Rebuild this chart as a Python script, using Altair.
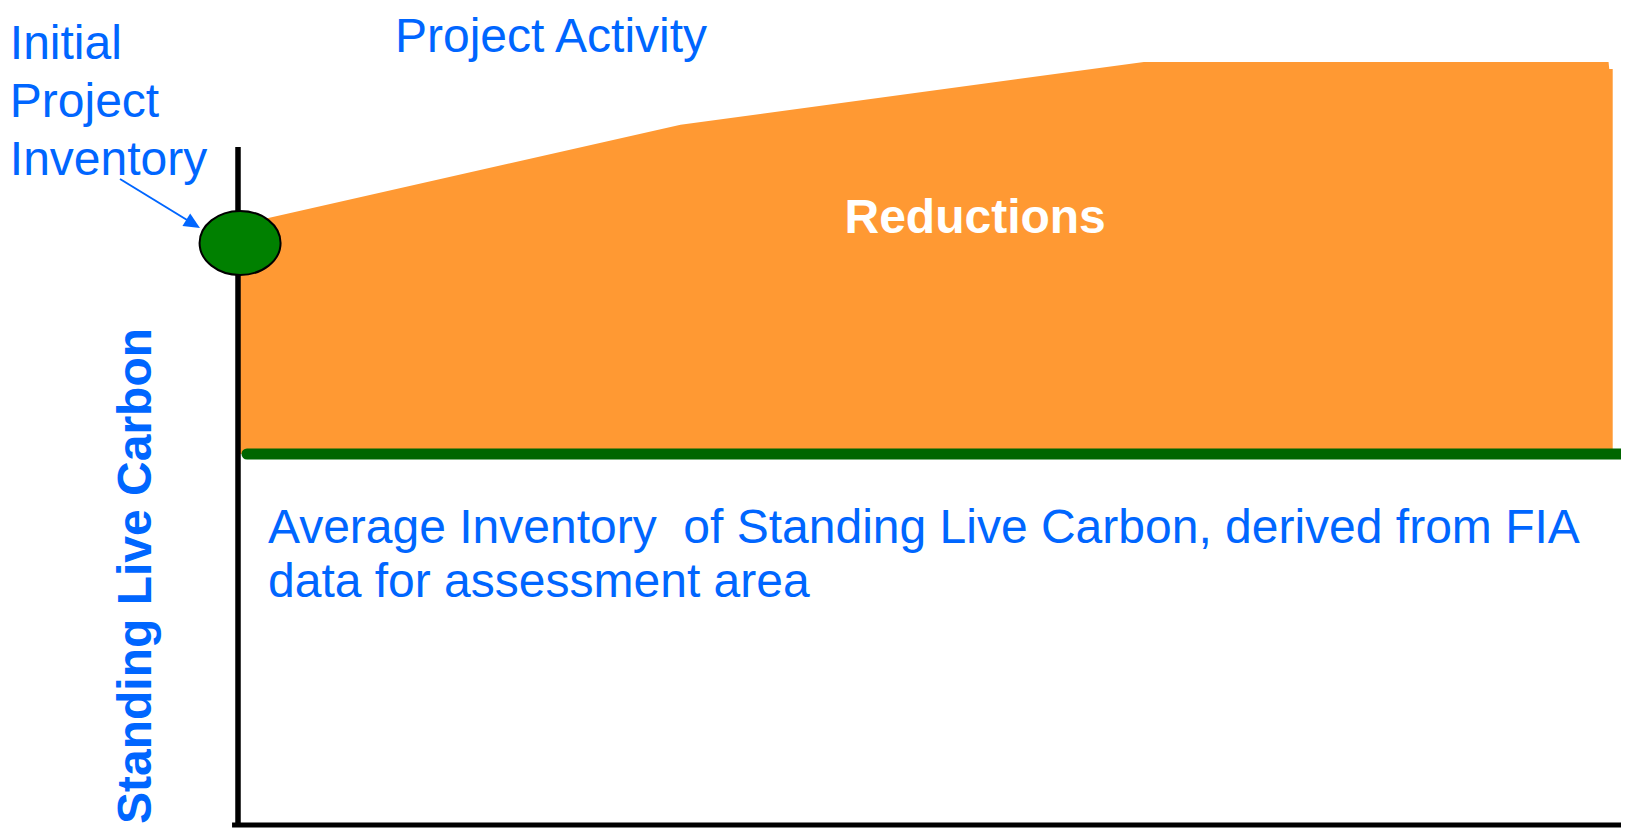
import altair as alt
import pandas as pd

# ---------------- data (x: project time, 0-100; y: standing live carbon, 0-100) -------------
proj_x = [0.0, 32.0, 65.5, 99.1, 99.15, 99.4]          # project activity curve
proj_y = [73.44, 85.72, 93.39, 93.39, 92.53, 92.53]
baseline_level = 45.41                                  # average FIA inventory
baseline_x = [0.65, 100.0]
initial_x = [0.15]                                      # initial project inventory
initial_y = [71.24]
yaxis_top = 82.99
xaxis_x = [-0.43, 100.0]
arrow_x = [-8.53, -3.24]
arrow_y = [79.07, 73.59]
arrow_tip_x = [-2.75]
arrow_tip_y = [73.07]

label_text = ["Initial", "Project", "Inventory", "Project Activity",
              "Average Inventory\u00a0 of Standing Live Carbon, derived from FIA",
              "data for assessment area"]
label_x = [-16.5, -16.5, -16.5, 11.35, 2.17, 2.17]
label_y = [93.76, 86.66, 79.55, 94.61, 34.47, 27.86]

center_text = ["Reductions"]
center_x = [53.3]
center_y = [72.46]

ytitle_text = ["Standing Live Carbon"]
ytitle_x = [-7.3]
ytitle_y = [30.48]

# ---------------- chart ----------------
W, H = 1383, 817
XS = alt.Scale(domain=[0, 100], nice=False, zero=False)
YS = alt.Scale(domain=[0, 100], nice=False, zero=False)
BLUE = "#0066FF"
FONT = "Liberation Sans"


def X(f):
    return alt.X(f, type="quantitative", scale=XS, axis=None)


def Y(f):
    return alt.Y(f, type="quantitative", scale=YS, axis=None)


area_df = pd.DataFrame({"x": proj_x, "y": proj_y, "base": [baseline_level] * len(proj_x)})
area = alt.Chart(area_df).mark_area(color="#FF9933", opacity=1).encode(
    x=X("x"), y=Y("y"), y2="base")

green_df = pd.DataFrame({"x": [baseline_x[0]], "x2": [baseline_x[1]], "y": [baseline_level]})
green = alt.Chart(green_df).mark_rule(color="#006600", strokeWidth=11, strokeCap="round").encode(
    x=X("x"), x2="x2", y=Y("y"))

yax_df = pd.DataFrame({"x": [0.0], "y": [0.0], "y2": [yaxis_top]})
yax = alt.Chart(yax_df).mark_rule(color="black", strokeWidth=5.5).encode(
    x=X("x"), y=Y("y"), y2="y2")

xax_df = pd.DataFrame({"x": [xaxis_x[0]], "x2": [xaxis_x[1]], "y": [0.0]})
xax = alt.Chart(xax_df).mark_rule(color="black", strokeWidth=5).encode(
    x=X("x"), x2="x2", y=Y("y"))

ELLIPSE = ("M-1,0 C-1,-0.4363 -0.5523,-0.79 0,-0.79 C0.5523,-0.79 1,-0.4363 1,0 "
           "C1,0.4363 0.5523,0.79 0,0.79 C-0.5523,0.79 -1,0.4363 -1,0 Z")
ell_df = pd.DataFrame({"x": initial_x, "y": initial_y})
ell = alt.Chart(ell_df).mark_point(shape=ELLIPSE, size=6561, filled=True, fill="#008000",
                                   stroke="black", strokeWidth=2, opacity=1).encode(
    x=X("x"), y=Y("y"))

arr_df = pd.DataFrame({"x": [arrow_x[0]], "x2": [arrow_x[1]], "y": [arrow_y[0]], "y2": [arrow_y[1]]})
arr = alt.Chart(arr_df).mark_rule(color=BLUE, strokeWidth=2).encode(
    x=X("x"), x2="x2", y=Y("y"), y2="y2")

head_df = pd.DataFrame({"x": arrow_tip_x, "y": arrow_tip_y})
head = alt.Chart(head_df).mark_point(shape="M0,0 L-1,-0.46 L-1,0.46 Z", size=1024, filled=True,
                                     color=BLUE, opacity=1, angle=31.5).encode(
    x=X("x"), y=Y("y"))

lab_df = pd.DataFrame({"t": label_text, "x": label_x, "y": label_y})
labels = alt.Chart(lab_df).mark_text(align="left", baseline="alphabetic", font=FONT,
                                     fontSize=48, color=BLUE).encode(
    x=X("x"), y=Y("y"), text="t")

cen_df = pd.DataFrame({"t": center_text, "x": center_x, "y": center_y})
cen = alt.Chart(cen_df).mark_text(align="center", baseline="alphabetic", font=FONT,
                                  fontSize=48, fontWeight="bold", color="white").encode(
    x=X("x"), y=Y("y"), text="t")

yt_df = pd.DataFrame({"t": ytitle_text, "x": ytitle_x, "y": ytitle_y})
yt = alt.Chart(yt_df).mark_text(align="center", baseline="middle", angle=270, font=FONT,
                                fontSize=48, fontWeight="bold", color=BLUE).encode(
    x=X("x"), y=Y("y"), text="t")

chart = alt.layer(area, green, yax, xax, ell, arr, head, labels, cen, yt).properties(
    width=W, height=H,
    autosize=alt.AutoSizeParams(type="none"),
    padding={"left": 230, "top": 0, "right": 0, "bottom": 3},
    background="white",
).configure_view(strokeWidth=0)

chart.save("out.html", embed_options={"renderer": "svg", "actions": False})
